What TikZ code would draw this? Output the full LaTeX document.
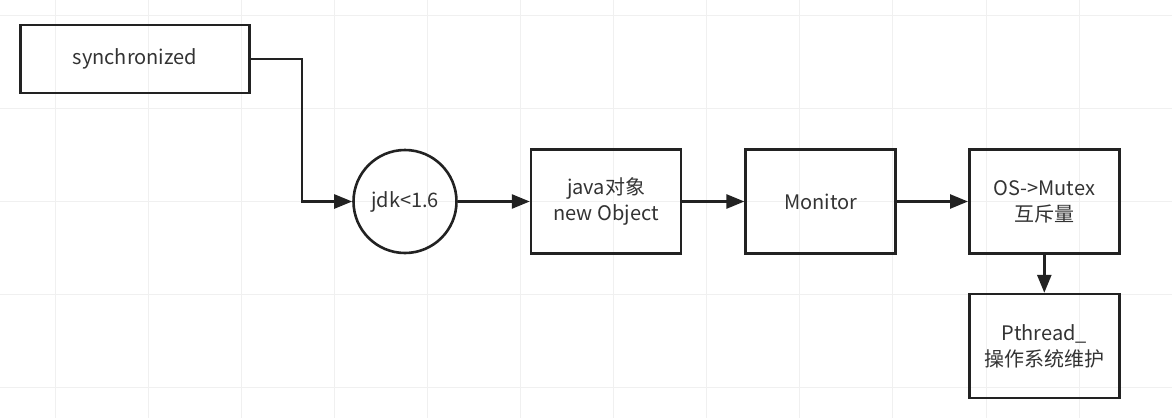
\documentclass[tikz,border=0pt]{standalone}
\usepackage{fontspec}
\setmainfont{Noto Sans CJK SC}
\usetikzlibrary{positioning, arrows.meta}

\definecolor{lineblack}{HTML}{222222}
\definecolor{textgray}{HTML}{333333}
\definecolor{gridgray}{HTML}{F0F0F0}

\begin{document}
\begin{tikzpicture}[
    x=1pt, y=-1pt,
    every node/.style={font=\fontsize{20}{26}\selectfont, text=textgray, align=center},
    stepbox/.style={rectangle, draw=lineblack, line width=2.6pt, minimum width=150pt, minimum height=104pt, inner sep=2pt},
    widebox/.style={rectangle, draw=lineblack, line width=2.6pt, minimum width=229pt, minimum height=68pt},
    condition/.style={circle, draw=lineblack, line width=2.6pt, minimum size=103pt, inner sep=0pt},
    arrow/.style={draw=lineblack, line width=2.6pt, -{Triangle[length=18pt, width=14pt]}}
]
\useasboundingbox (0,0) rectangle (1172,418);

% background grid
\foreach \gx in {55,148.1,241.2,334.3,427.4,520.5,613.6,706.7,799.8,892.9,986,1079.1}
    \draw[gridgray, line width=1pt] (\gx,0) -- (\gx,418);
\foreach \gy in {15,108.1,201.2,294.3,387.4}
    \draw[gridgray, line width=1pt] (0,\gy) -- (1172,\gy);

% nodes
\node[widebox] (sync) at (135,59) {synchronized};
\node[condition] (jdk) at (405,201.5) {jdk<1.6};
\node[stepbox, right=72pt of jdk] (object) {java对象\\new Object};
\node[stepbox, right=62pt of object] (monitor) {Monitor};
\node[stepbox, right=71pt of monitor] (mutex) {OS->Mutex\\互斥量};
\node[stepbox, below=38pt of mutex] (pthread) {Pthread\_\\操作系统维护};

% arrows
\draw[arrow] (sync.east) -- ++(51,0) |- (jdk.west);
\draw[arrow] (jdk) -- (object);
\draw[arrow] (object) -- (monitor);
\draw[arrow] (monitor) -- (mutex);
\draw[arrow] (mutex) -- (pthread);

\end{tikzpicture}
\end{document}
